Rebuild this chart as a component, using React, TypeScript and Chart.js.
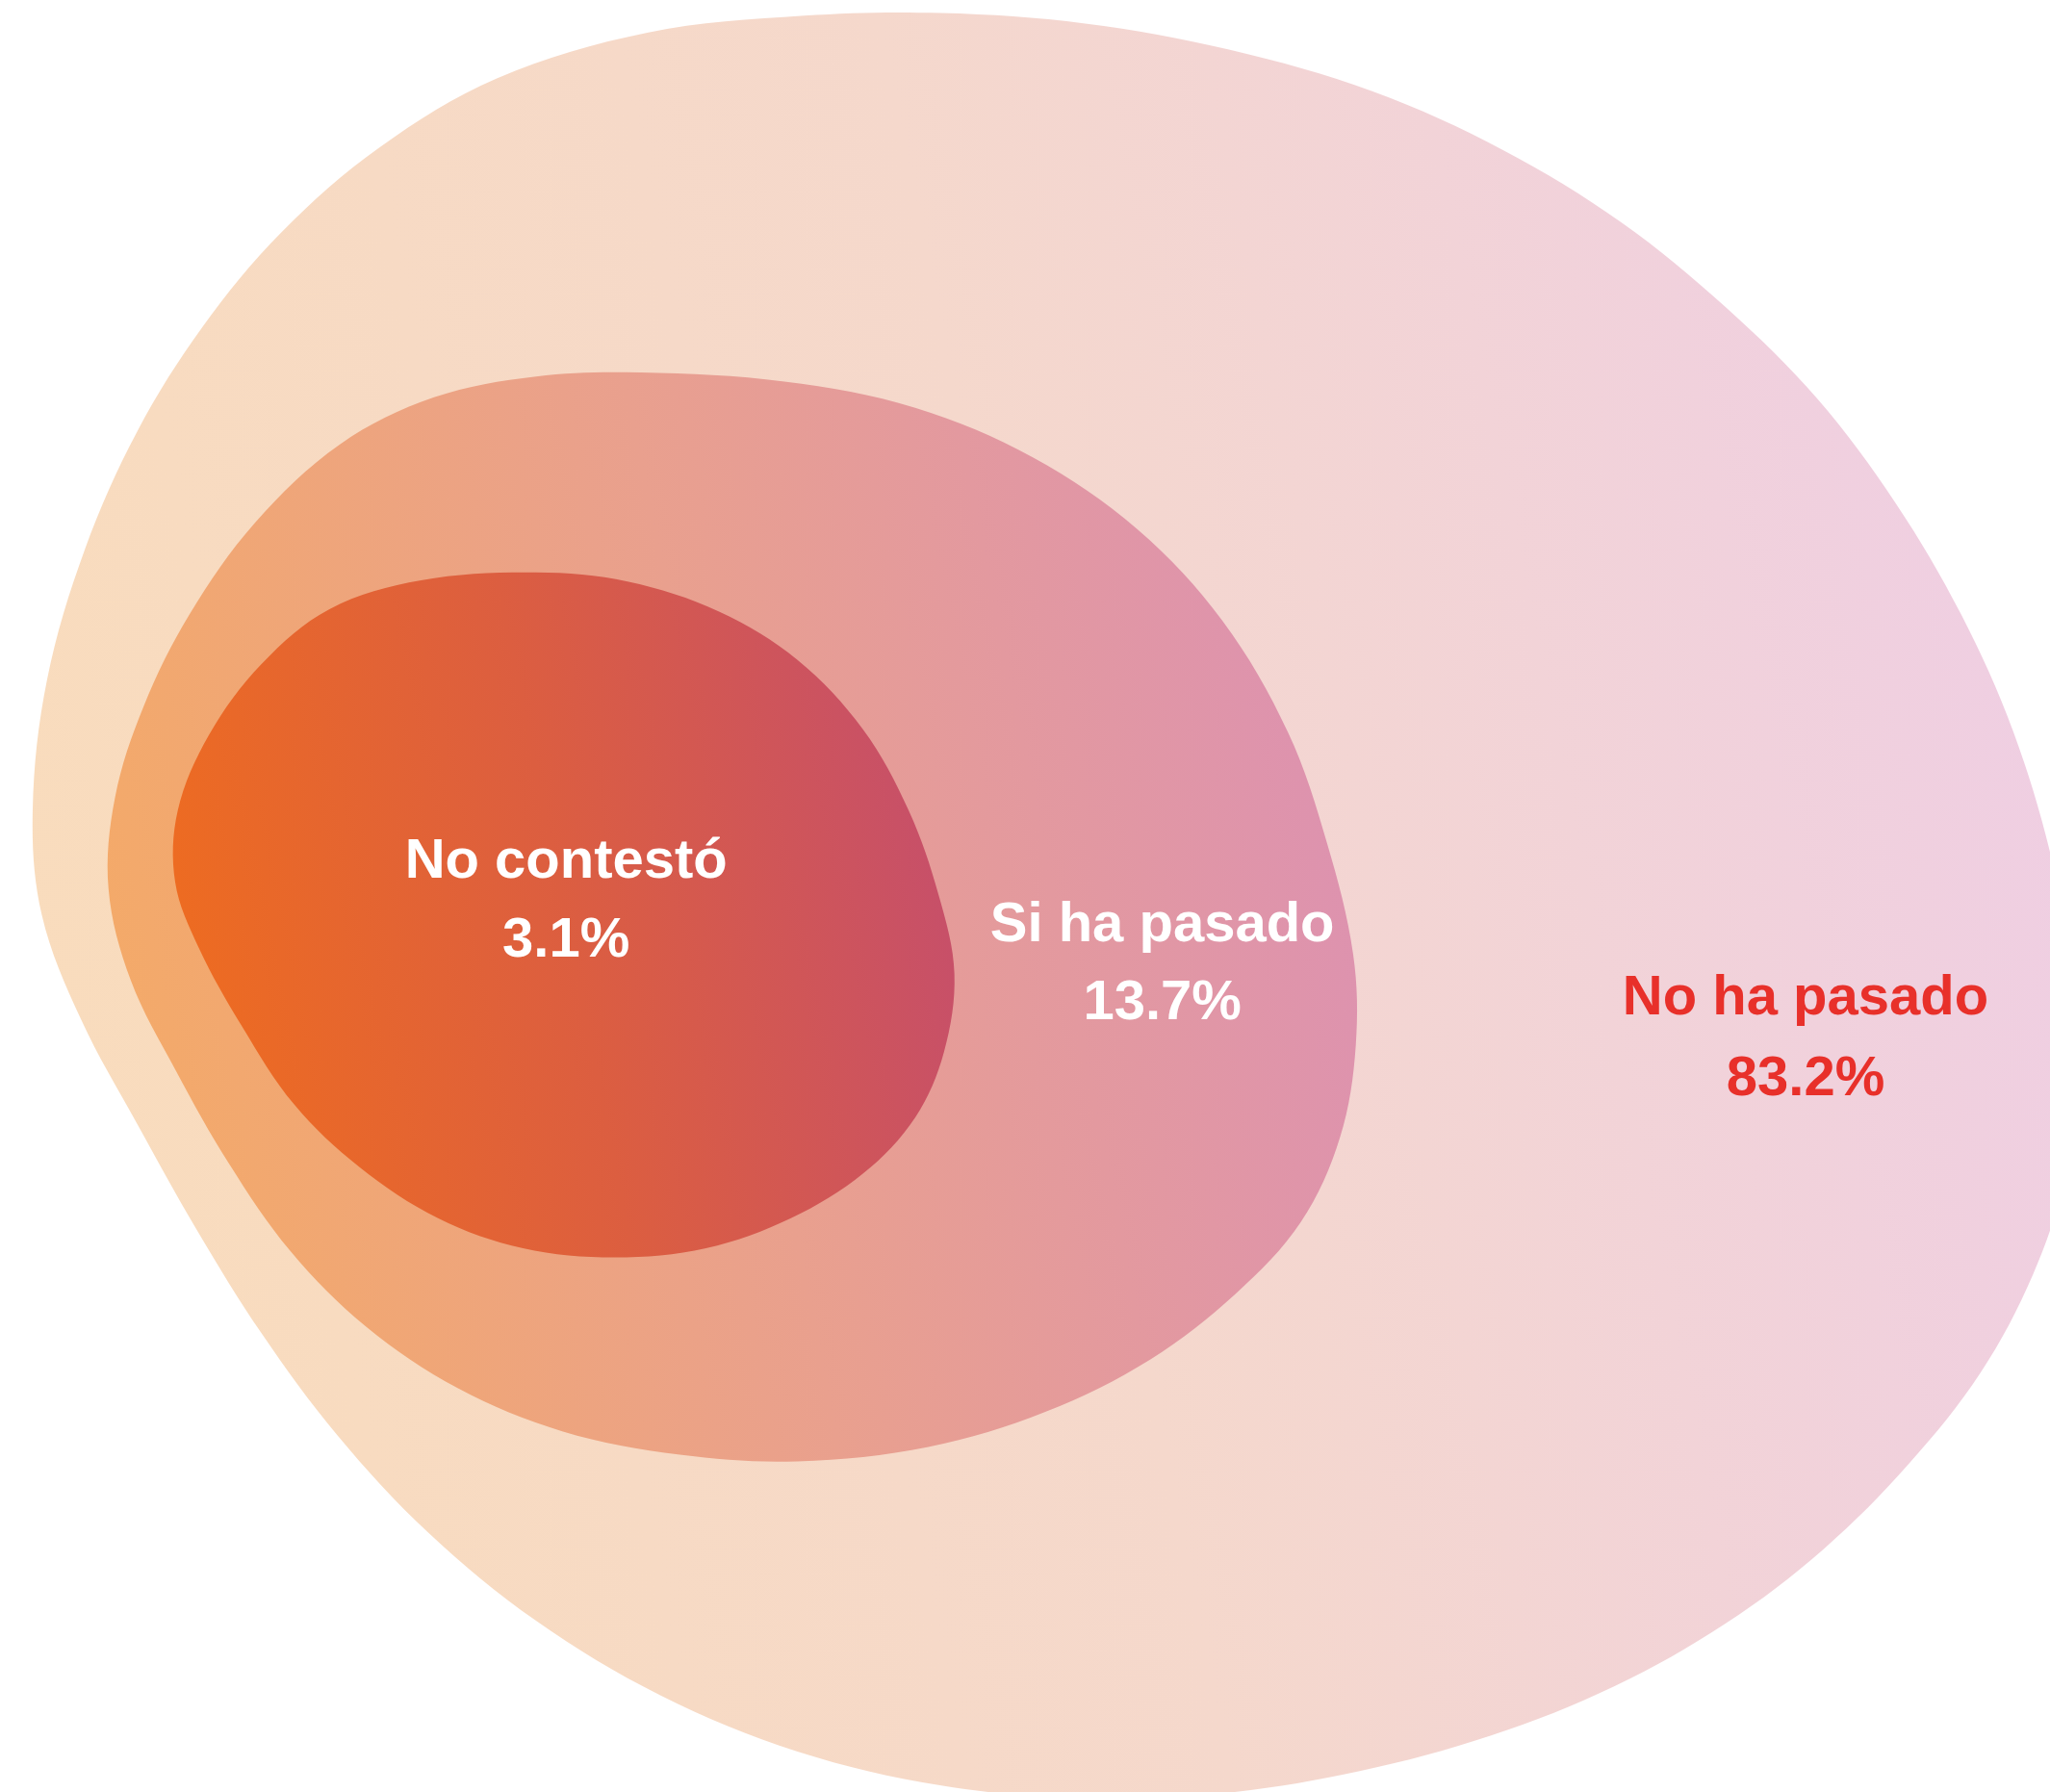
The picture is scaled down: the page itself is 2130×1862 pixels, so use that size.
import React, { useEffect, useRef } from "react";
import { Chart, registerables } from "chart.js";

Chart.register(...registerables);

// Categories and values
const categories = ["No contestó", "Si ha pasado", "No ha pasado"];
const values = [3.1, 13.7, 83.2];

// Blob outlines (in chart units, x 0..1568, y 0..1371 top-down), clockwise from top
const innerX = [410, 480, 550, 610, 660, 695, 718, 730, 722, 700, 660, 605, 540, 470, 400, 335, 275, 225, 185, 152, 134, 136, 160, 200, 252, 322];
const innerY = [438, 445, 468, 505, 558, 620, 685, 745, 805, 855, 898, 932, 955, 962, 955, 932, 893, 845, 785, 725, 675, 620, 562, 508, 466, 444];

const middleX = [490, 600, 700, 790, 870, 935, 985, 1015, 1035, 1037, 1025, 995, 945, 880, 800, 710, 610, 520, 430, 350, 280, 222, 175, 135, 100, 83, 88, 110, 145, 195, 260, 332, 410];
const middleY = [285, 292, 312, 350, 405, 475, 560, 645, 730, 800, 870, 935, 990, 1040, 1080, 1107, 1118, 1113, 1095, 1062, 1015, 957, 890, 820, 750, 680, 610, 540, 470, 400, 340, 304, 288];

const outerX = [720, 830, 940, 1050, 1150, 1240, 1320, 1390, 1450, 1500, 1540, 1570, 1588, 1590, 1580, 1555, 1515, 1460, 1395, 1320, 1235, 1140, 1040, 935, 830, 720, 610, 505, 410, 327, 258, 200, 150, 105, 62, 32, 25, 36, 65, 105, 155, 215, 290, 380, 495, 615];
const outerY = [10, 18, 38, 70, 115, 170, 235, 305, 385, 470, 560, 660, 760, 830, 900, 975, 1050, 1120, 1185, 1242, 1290, 1328, 1355, 1372, 1376, 1366, 1340, 1297, 1240, 1172, 1098, 1020, 940, 860, 780, 700, 620, 520, 420, 330, 250, 178, 113, 60, 25, 12];

// Label positions (chart units)
const labelX = [433, 889, 1381];
const labelY1 = [660, 708, 764];
const labelY2 = [720, 768, 826];
const labelColors = ["#ffffff", "#ffffff", "#e8302a"];

// Gradient colour stops per blob (left -> right)
const innerColors = ["#ee6c20", "#dc5e40", "#c64f6b"];
const middleColors = ["#f4aa68", "#e9a08e", "#dd92b0"];
const outerColors = ["#f9dcbc", "#f5d8cc", "#efcee3"];

const XMAX = 1568;
const YMAX = 1371;

function toPoints(xs: number[], ys: number[]) {
  return xs.map((x, i) => ({ x, y: ys[i] }));
}

function makeGradient(chart: any, xs: number[], ys: number[], stops: string[]) {
  const sx = chart.scales.x;
  const sy = chart.scales.y;
  if (!sx || !sy || !chart.chartArea) return stops[0];
  const x0 = sx.getPixelForValue(Math.min(...xs));
  const x1 = sx.getPixelForValue(Math.max(...xs));
  const cy = sy.getPixelForValue((Math.min(...ys) + Math.max(...ys)) / 2);
  const tilt = (x1 - x0) * 0.1;
  const g = chart.ctx.createLinearGradient(x0, cy + tilt, x1, cy - tilt);
  stops.forEach((c, i) => g.addColorStop(i / (stops.length - 1), c));
  return g;
}

// Close each outline into a smooth loop (as the radar controller does)
const loopPlugin = {
  id: "closedLoops",
  afterDatasetsUpdate(chart: any) {
    chart.getSortedVisibleDatasetMetas().forEach((meta: any) => {
      const line = meta.dataset;
      if (!line) return;
      line._loop = true;
      line._fullLoop = true;
      line._pointsUpdated = false;
      delete line._segments;
      delete line._path;
    });
  },
};

const labelPlugin = {
  id: "blobLabels",
  afterDatasetsDraw(chart: any) {
    const { ctx } = chart;
    const sx = chart.scales.x;
    const sy = chart.scales.y;
    ctx.save();
    ctx.font = "bold 58px 'Liberation Sans', Arial, sans-serif";
    ctx.textAlign = "center";
    ctx.textBaseline = "middle";
    categories.forEach((cat, i) => {
      ctx.fillStyle = labelColors[i];
      const px = sx.getPixelForValue(labelX[i]);
      ctx.fillText(cat, px, sy.getPixelForValue(labelY1[i]));
      ctx.fillText(values[i].toFixed(1) + "%", px, sy.getPixelForValue(labelY2[i]));
    });
    ctx.restore();
  },
};

export default function App() {
  const ref = useRef<HTMLCanvasElement | null>(null);

  useEffect(() => {
    if (!ref.current) return;
    const blobs = [
      { xs: innerX, ys: innerY, colors: innerColors },
      { xs: middleX, ys: middleY, colors: middleColors },
      { xs: outerX, ys: outerY, colors: outerColors },
    ];
    const chart = new Chart(ref.current, {
      type: "scatter",
      data: {
        datasets: blobs.map((b, i) => ({
          label: categories[i],
          data: toPoints(b.xs, b.ys),
          showLine: true,
          fill: "shape",
          tension: 0.35,
          spanGaps: true,
          borderWidth: 0,
          borderColor: "rgba(0,0,0,0)",
          pointRadius: 0,
          pointHoverRadius: 0,
          order: i,
          backgroundColor: (c: any) => makeGradient(c.chart, b.xs, b.ys, b.colors),
        })),
      },
      options: {
        animation: false,
        responsive: false,
        events: [],
        layout: { padding: 0 },
        elements: { line: { capBezierPoints: false } },
        plugins: {
          legend: { display: false },
          tooltip: { enabled: false },
          title: { display: false },
        },
        scales: {
          x: { type: "linear", min: 0, max: XMAX, display: false },
          y: { type: "linear", min: 0, max: YMAX, reverse: true, display: false },
        },
      },
      plugins: [loopPlugin, labelPlugin],
    });
    return () => chart.destroy();
  }, []);

  return (
    <div style={{ position: "absolute", left: 0, top: 0, width: 2130, height: 1862, background: "#ffffff" }}>
      <canvas ref={ref} width={2130} height={1862} style={{ display: "block", width: 2130, height: 1862 }} />
    </div>
  );
}
